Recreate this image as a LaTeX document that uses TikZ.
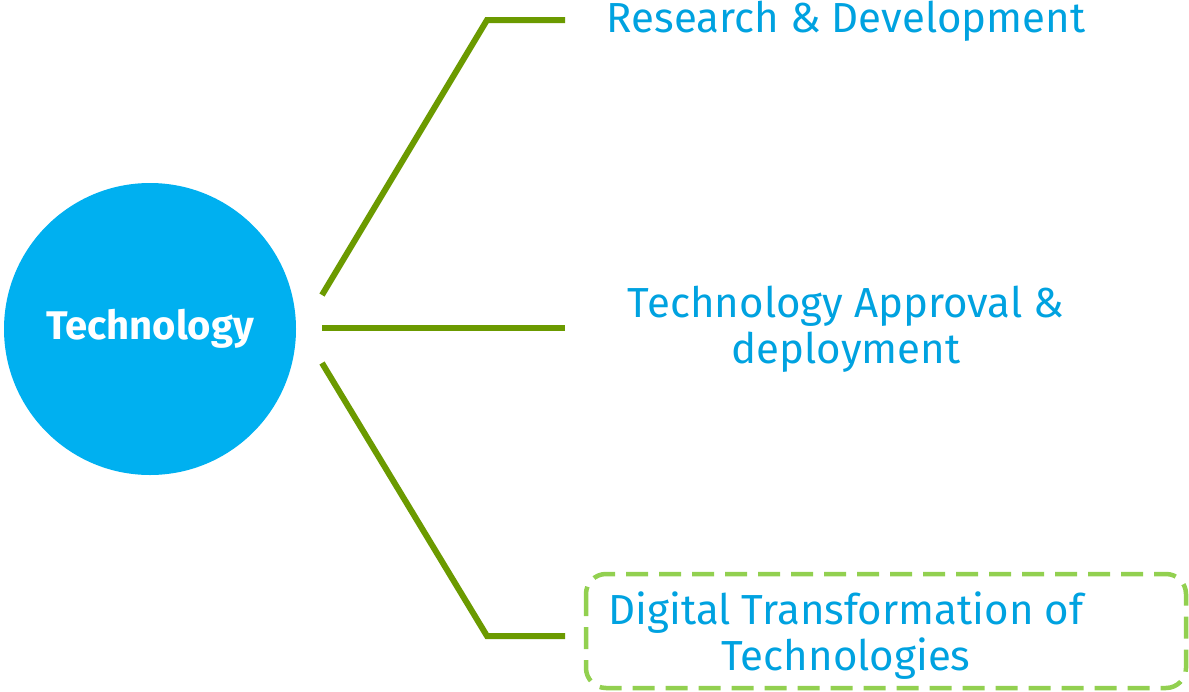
\documentclass[tikz,border=0pt]{standalone}
\usepackage{fontspec}
\setmainfont{Fira Sans}
\definecolor{olive}{RGB}{107,154,0}
\definecolor{lgreen}{RGB}{146,208,80}
\definecolor{cyanfill}{RGB}{0,176,240}
\definecolor{cyantext}{RGB}{0,162,224}
\begin{document}
\begin{tikzpicture}[x=1pt,y=-1pt,
  conn/.style={draw=olive,line width=6pt},
  lbl/.style={text=cyantext,font=\fontsize{42}{46}\selectfont,align=center,inner sep=0pt}]
\useasboundingbox (0,0) rectangle (1189,691);
\node[circle,fill=cyanfill,minimum size=292pt,inner sep=0pt,text=white,font=\bfseries\fontsize{40}{44}\selectfont] (c) at (150,329) {Technology};
\coordinate (s1) at (322,295);
\coordinate (e1) at (487,20);
\coordinate (f1) at (565,20);
\coordinate (s2) at (322,328);
\coordinate (f2) at (565,328);
\coordinate (s3) at (322,363);
\coordinate (e3) at (487,636);
\coordinate (f3) at (565,636);
\draw[conn] (s1) -- (e1) -- (f1);
\draw[conn] (s2) -- (f2);
\draw[conn] (s3) -- (e3) -- (f3);
\node[lbl] (t1) at (846,21) {Research \& Development};
\node[lbl] (t2) at (846,329) {Technology Approval \&\\deployment};
\draw[draw=lgreen,line width=4.5pt,dash pattern=on 22pt off 11pt,rounded corners=20pt] (586,574) rectangle (1186,688);
\node[lbl] (t3) at (846,636) {Digital Transformation of\\Technologies};
\end{tikzpicture}
\end{document}
